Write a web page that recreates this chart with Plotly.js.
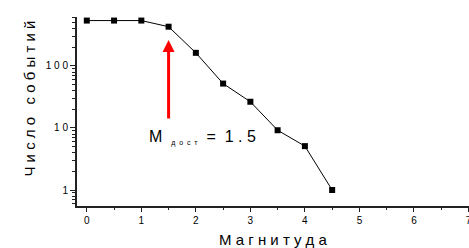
<!DOCTYPE html>
<html><head><meta charset="utf-8">
<script src="https://cdn.plot.ly/plotly-3.0.1.min.js"></script>
<style>html,body{margin:0;padding:0;background:#fff}#c{width:469px;height:248px}</style>
</head><body><div id="c"></div>
<script>
// data
const magnitude = [0, 0.5, 1, 1.5, 2, 2.5, 3, 3.5, 4, 4.5];
const eventCount = [540, 540, 540, 430, 163, 52, 26.5, 9.2, 5.1, 1];
const xTickVals = [0, 1, 2, 3, 4, 5, 6, 7];
const xTickText = ['0', '1', '2', '3', '4', '5', '6', '7'];
const yTickVals = [1, 10, 100];
const yTickText = ['1', '1 0', '1 0 0'];
const arrowX = [1.5, 1.5];          // tail, head
const arrowY = [13.5, 262];         // tail, head (counts)
const NB = '\u00a0';
const labelText = 'M' + NB + NB + '<sub><span style="font-size:7px">д' + NB + NB + 'о' + NB + NB + 'с' + NB + NB + 'т</span></sub>' + NB + NB + '=' + NB + NB + '1' + NB + '.' + NB + '5';
const labelPos = [2.12, 7.0];
const xTitle = 'М а г н и т у д а';
const yTitle = 'Ч и с л о' + NB + NB + ' с о б ы т и й';

const font = {family: 'Liberation Sans, Arial, sans-serif', color: '#000'};

const trace = {
  x: magnitude, y: eventCount, type: 'scatter', mode: 'lines+markers',
  line: {color: '#000', width: 1},
  marker: {symbol: 'square', size: 6, color: '#000'},
  hoverinfo: 'skip'
};

const layout = {
  width: 469, height: 248,
  margin: {l: 77, r: 0, t: 17, b: 42},
  paper_bgcolor: '#fff', plot_bgcolor: '#fff',
  showlegend: false,
  font: Object.assign({size: 10}, font),
  xaxis: {
    range: [-0.18, 7.01], showgrid: false, zeroline: false,
    showline: true, linecolor: '#222', linewidth: 2,
    ticks: 'outside', ticklen: 4, tickwidth: 1, tickcolor: '#222',
    tickvals: xTickVals, ticktext: xTickText, ticklabeloverflow: 'allow',
    tickfont: Object.assign({size: 10}, font),
    minor: {dtick: 0.5, tick0: 0, ticks: 'outside', ticklen: 2, tickcolor: '#222', showgrid: false},
    title: {text: xTitle, font: Object.assign({size: 15}, font), standoff: 9}
  },
  yaxis: {
    type: 'log', range: [-0.258, 2.79], showgrid: false, zeroline: false,
    showline: true, linecolor: '#222', linewidth: 2,
    ticks: 'outside', ticklen: 5, tickwidth: 1, tickcolor: '#222',
    tickvals: yTickVals, ticktext: yTickText,
    tickfont: Object.assign({size: 10}, font),
    minor: {dtick: 'D1', ticks: 'outside', ticklen: 3, tickcolor: '#222', showgrid: false}
  },
  annotations: [
    {
      x: arrowX[1], y: Math.log10(arrowY[1]), ax: arrowX[0], ay: Math.log10(arrowY[0]),
      xref: 'x', yref: 'y', axref: 'x', ayref: 'y',
      text: '', showarrow: true, arrowcolor: '#ff0000', arrowwidth: 3,
      arrowhead: 2, arrowsize: 0.8, standoff: 0
    },
    {
      x: labelPos[0], y: Math.log10(labelPos[1]), xref: 'x', yref: 'y',
      text: labelText, showarrow: false,
      font: Object.assign({size: 16}, font)
    },
    {
      x: -0.148, y: 0.571, xref: 'paper', yref: 'paper',
      text: yTitle, textangle: -90, showarrow: false,
      font: Object.assign({size: 15}, font)
    }
  ]
};

Plotly.newPlot('c', [trace], layout, {staticPlot: true, displayModeBar: false});
</script>
</body></html>
